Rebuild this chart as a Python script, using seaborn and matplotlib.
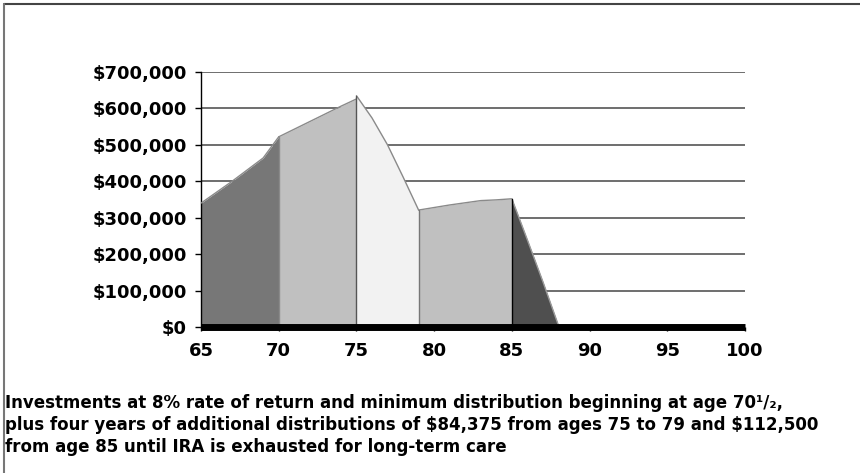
import numpy as np
import pandas as pd
import matplotlib
matplotlib.use("Agg")
import matplotlib.pyplot as plt
import seaborn as sns
from matplotlib.ticker import FuncFormatter

# -------- data (in $) --------
ages_a = [65, 66, 67, 68, 69, 70]
vals_a = [340000, 370000, 400000, 432000, 464000, 522000]

ages_b = [70, 71, 72, 73, 74, 75]
vals_b = [522000, 543000, 564000, 585000, 606000, 626000]

ages_c = [75, 76, 77, 78, 79]
vals_c = [635000, 574000, 500000, 412000, 321000]

ages_d = [79, 80, 81, 82, 83, 84, 85]
vals_d = [321000, 328000, 335000, 341000, 347000, 349000, 352000]

ages_e = [85, 86, 87, 88]
vals_e = [352000, 239000, 124000, 4000]

ages_f = [88, 89, 90, 95, 100]
vals_f = [4000, 0, 0, 0, 0]

x_ticks = [65, 70, 75, 80, 85, 90, 95, 100]
y_ticks = [0, 100000, 200000, 300000, 400000, 500000, 600000, 700000]

caption = ("Investments at 8% rate of return and minimum distribution beginning at age 70\u00b9/\u2082,\n"
           "plus four years of additional distributions of \\$84,375 from ages 75 to 79 and \\$112,500\n"
           "from age 85 until IRA is exhausted for long-term care")

segments = [
    (ages_a, vals_a, "#777777", "#8a8a8a"),
    (ages_b, vals_b, "#c0c0c0", "#8a8a8a"),
    (ages_c, vals_c, "#f2f2f2", "#8a8a8a"),
    (ages_d, vals_d, "#c0c0c0", "#8a8a8a"),
    (ages_e, vals_e, "#4f4f4f", "#9a9a9a"),
    (ages_f, vals_f, "#4f4f4f", "#9a9a9a"),
]

sns.set_theme(style="white")
plt.rcParams["font.family"] = ["DejaVu Sans"]
plt.rcParams["font.sans-serif"] = ["DejaVu Sans"]

fig = plt.figure(figsize=(8.6, 4.73), dpi=100)
ax = fig.add_axes([201 / 860, 1 - 327 / 473, 544 / 860, 255 / 473])

for y in y_ticks[1:]:
    ax.axhline(y, color="#555555", lw=1.2, zorder=0)

for ages, vals, fc, ec in segments:
    ax.fill_between(ages, vals, 0, color=fc, lw=0, zorder=2)
    df = pd.DataFrame({"age": ages, "value": vals})
    sns.lineplot(data=df, x="age", y="value", ax=ax, color=ec, lw=1, zorder=3)

# vertical edges between segments
edges = [(70, vals_b[0], "#8a8a8a"), (75, vals_c[0], "#555555"),
         (79, vals_d[0], "#777777"), (85, vals_e[0], "#000000")]
for x, top, c in edges:
    ax.plot([x, x], [0, top], color=c, lw=1, zorder=3)

ax.set_xlim(65, 100)
ax.set_ylim(0, 700000)
ax.set_xticks(x_ticks)
ax.set_yticks(y_ticks)
ax.yaxis.set_major_formatter(FuncFormatter(lambda v, p: f"${v:,.0f}"))
ax.set_xlabel("")
ax.set_ylabel("")

for s in ["top", "right"]:
    ax.spines[s].set_visible(False)
ax.spines["left"].set_color("black")
ax.spines["left"].set_linewidth(1)
ax.spines["bottom"].set_color("black")
ax.spines["bottom"].set_linewidth(5)
ax.spines["bottom"].set_capstyle("butt")
ax.spines["bottom"].set_zorder(5)

ax.tick_params(axis="y", length=4, width=1, color="black", pad=6,
               labelsize=13, labelcolor="black", left=True)
ax.tick_params(axis="x", length=3, width=1, color="black", pad=8,
               labelsize=13, labelcolor="black", bottom=True)
for lab in ax.get_xticklabels() + ax.get_yticklabels():
    lab.set_fontweight("bold")
    lab.set_family("DejaVu Sans")

fig.text(5 / 860, 1 - 394 / 473, caption, ha="left", va="top", family="DejaVu Sans",
         fontsize=12, fontweight="bold", linespacing=1.3, color="black")

# outer frame (top and left only)
fig.add_artist(plt.Line2D([4 / 860, 1], [1 - 4 / 473, 1 - 4 / 473], color="#444444", lw=1.5))
fig.add_artist(plt.Line2D([4 / 860, 4 / 860], [1 - 4 / 473, 0], color="#777777", lw=1.5))

fig.savefig("out.png", dpi=100)
